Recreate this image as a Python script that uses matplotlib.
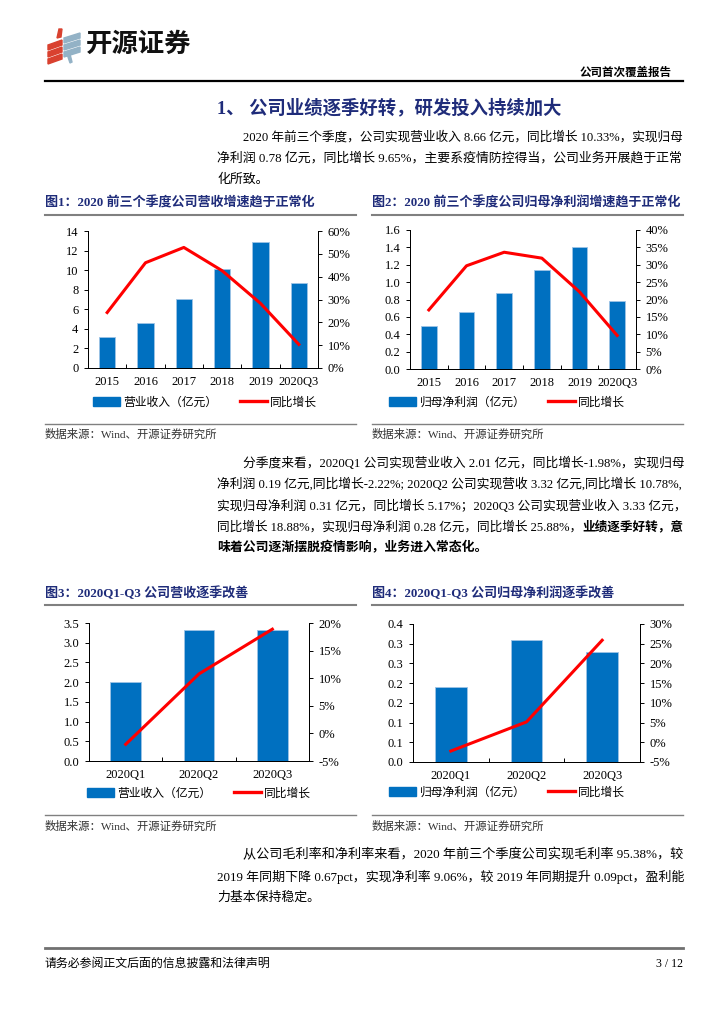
import numpy as np
import matplotlib
matplotlib.use("Agg")
import matplotlib.pyplot as plt
from matplotlib.patches import Polygon
from matplotlib.lines import Line2D

plt.rcParams['font.family'] = ['Liberation Serif', 'Noto Sans CJK SC']
plt.rcParams['axes.unicode_minus'] = False

#data
years = ['2015', '2016', '2017', '2018', '2019', '2020Q3']
revenue = [3.19, 4.61, 7.05, 10.07, 12.88, 8.66]
revenue_yoy = [24.3, 46.1, 52.8, 42.6, 28.3, 10.33]
profit = [0.50, 0.655, 0.873, 1.145, 1.41, 0.78]
profit_yoy = [17.0, 29.7, 33.6, 31.9, 22.2, 9.65]

quarters = ['2020Q1', '2020Q2', '2020Q3']
q_revenue = [2.01, 3.32, 3.33]
q_revenue_yoy = [-1.98, 10.78, 18.88]
q_profit = [0.19, 0.31, 0.28]
q_profit_yoy = [-2.22, 5.17, 25.88]
q_profit_ticklabels = ['0.0', '0.1', '0.1', '0.2', '0.2', '0.3', '0.3', '0.4']

W, H = 724, 1024
NAVY = '#1F2C7A'
BLUE = '#0070C0'
RED = '#FF0000'
TICK_FS = 9

fig = plt.figure(figsize=(7.24, 10.24), dpi=100)
renderer = fig.canvas.get_renderer()


def fx(x):
    return x / W


def fy(y):
    return 1 - y / H


def txt(x, y, s, size=9.3, **kw):
    return fig.text(fx(x), fy(y), s, fontsize=size, va='center', **kw)


def width(t):
    return t.get_window_extent(renderer).width


def jtxt(x, y, s, right=683, size=9.3, **kw):
    # full-width line, sized to fill the text column like the justified original
    t = txt(x, y, s, size=size, **kw)
    t.set_fontsize(size * (right - x) / width(t))
    return t


def hline(x0, x1, y, lw=1.0, color='#808080'):
    fig.add_artist(Line2D([fx(x0), fx(x1)], [fy(y), fy(y)], color=color, lw=lw,
                          transform=fig.transFigure))


def poly(pts, color):
    fig.add_artist(Polygon([(fx(a), fy(b)) for a, b in pts], closed=True, color=color,
                           transform=fig.transFigure))


def rect(l, r, t, b):
    return [fx(l), fy(b), (r - l) / W, (b - t) / H]


# header / logo
red_c = '#D9412F'
blue_c = '#93B2C6'
for i in range(3):
    y0 = 45 + i * 7
    poly([(48, y0 + 5), (62, y0), (62, y0 - 5), (48, y0)], red_c)
    y1 = 38 + i * 7
    poly([(64, y1 + 5), (80, y1), (80, y1 - 5), (64, y1)], blue_c)
poly([(57, 38), (59, 29), (62, 29), (61, 37)], red_c)
poly([(67, 54), (70, 63), (72, 62), (70, 54)], blue_c)
txt(86, 45, '开源证券', size=19, fontweight='heavy', color='#111111')
txt(672, 73, '公司首次覆盖报告', size=8.3, fontweight='bold', ha='right')
hline(45, 683, 80.5, lw=1.6, color='#000000')

# section title + paragraph 1
txt(217, 108, '1、 公司业绩逐季好转，研发投入持续加大', size=13.2, fontweight='bold', color=NAVY)
jtxt(243, 137, '2020 年前三个季度，公司实现营业收入 8.66 亿元，同比增长 10.33%，实现归母')
jtxt(217, 158, '净利润 0.78 亿元，同比增长 9.65%，主要系疫情防控得当，公司业务开展趋于正常')
txt(217, 180, '化所致。')


def chart(r, cats, bars, growth, ylim, yticks, ytl, y2lim, y2ticks, bar_label, leg_xy):
    ax = fig.add_axes(r)
    x = np.arange(len(cats))
    ax.bar(x, bars, width=0.42, color=BLUE, edgecolor='#9DC3E6', linewidth=0.6, zorder=2)
    ax.set_xlim(-0.5, len(cats) - 0.5)
    ax.set_ylim(*ylim)
    ax.set_yticks(yticks)
    ax.set_yticklabels(ytl, fontsize=TICK_FS)
    ax.set_xticks(x)
    ax.set_xticklabels(cats, fontsize=TICK_FS)
    ax.set_xticks(np.arange(len(cats) + 1) - 0.5, minor=True)
    ax.tick_params(axis='x', which='major', length=0, pad=6)
    ax.tick_params(axis='x', which='minor', length=3, direction='in', width=0.7)
    ax.tick_params(axis='y', length=3, width=0.7, pad=4)
    ax2 = ax.twinx()
    ax2.plot(x, growth, color=RED, lw=2.2, zorder=3)
    ax2.set_ylim(*y2lim)
    ax2.set_yticks(y2ticks)
    ax2.set_yticklabels(['%d%%' % v for v in y2ticks], fontsize=TICK_FS)
    ax2.tick_params(axis='y', length=3, width=0.7, pad=4)
    for a in (ax, ax2):
        a.spines['top'].set_visible(False)
        for s in ('left', 'right', 'bottom'):
            a.spines[s].set_linewidth(0.7)
            a.spines[s].set_color('#000000')
    handles = [plt.Rectangle((0, 0), 1, 1, color=BLUE),
               Line2D([], [], color=RED, lw=2.4)]
    ax.legend(handles, [bar_label, '同比增长'], loc='center', ncol=2, frameon=False,
              bbox_to_anchor=(fx(leg_xy[0]), fy(leg_xy[1])), bbox_transform=fig.transFigure,
              handlelength=2.3, handleheight=0.7, columnspacing=1.9,
              handletextpad=0.3, prop={'family': ['Noto Sans CJK SC'], 'size': 8.5})
    return ax


# figure 1 & 2
txt(45, 203, '图1：2020 前三个季度公司营收增速趋于正常化', size=9.4, fontweight='bold', color=NAVY)
txt(372, 203, '图2：2020 前三个季度公司归母净利润增速趋于正常化', size=9.4, fontweight='bold', color=NAVY)
hline(45, 356, 214.5, lw=1.5)
hline(372, 683, 214.5, lw=1.5)

chart(rect(88, 318, 231, 368), years, revenue, revenue_yoy, (0, 14), np.arange(0, 15, 2),
      [str(v) for v in range(0, 15, 2)], (0, 60), list(range(0, 61, 10)), '营业收入（亿元）', (205, 402))
chart(rect(410, 636, 230, 369), years, profit, profit_yoy, (0, 1.6), np.arange(0, 1.61, 0.2),
      ['%.1f' % v for v in np.arange(0, 1.61, 0.2)], (0, 40), list(range(0, 41, 5)),
      '归母净利润（亿元）', (507, 402))

hline(45, 356, 424)
hline(372, 683, 424)
txt(45, 434, '数据来源：Wind、开源证券研究所', size=8.2, color='#333333')
txt(372, 434, '数据来源：Wind、开源证券研究所', size=8.2, color='#333333')

# paragraph 2
jtxt(243, 463, '分季度来看，2020Q1 公司实现营业收入 2.01 亿元，同比增长-1.98%，实现归母')
jtxt(217, 484, '净利润 0.19 亿元,同比增长-2.22%; 2020Q2 公司实现营收 3.32 亿元,同比增长 10.78%,')
jtxt(217, 506, '实现归母净利润 0.31 亿元，同比增长 5.17%；2020Q3 公司实现营业收入 3.33 亿元，')
t1 = txt(217, 527, '同比增长 18.88%，实现归母净利润 0.28 亿元，同比增长 25.88%，')
t2 = txt(683, 527, '业绩逐季好转，意', fontweight='bold', ha='right')
k = (683 - 217) / (width(t1) + width(t2))
t1.set_fontsize(9.3 * k)
t2.set_fontsize(9.3 * k)
txt(217, 548, '味着公司逐渐摆脱疫情影响，业务进入常态化。', fontweight='bold')

# figure 3 & 4
txt(45, 593, '图3：2020Q1-Q3 公司营收逐季改善', size=9.4, fontweight='bold', color=NAVY)
txt(372, 593, '图4：2020Q1-Q3 公司归母净利润逐季改善', size=9.4, fontweight='bold', color=NAVY)
hline(45, 356, 605, lw=1.5)
hline(372, 683, 605, lw=1.5)

chart(rect(89, 309, 623, 761), quarters, q_revenue, q_revenue_yoy, (0, 3.5), np.arange(0, 3.51, 0.5),
      ['%.1f' % v for v in np.arange(0, 3.51, 0.5)], (-5, 20), list(range(-5, 21, 5)),
      '营业收入（亿元）', (199, 793))
chart(rect(413, 640, 624, 762), quarters, q_profit, q_profit_yoy, (0, 0.35), np.arange(0, 0.351, 0.05),
      q_profit_ticklabels, (-5, 30), list(range(-5, 31, 5)), '归母净利润（亿元）', (507, 792))

hline(45, 356, 815)
hline(372, 683, 815)
txt(45, 826, '数据来源：Wind、开源证券研究所', size=8.2, color='#333333')
txt(372, 826, '数据来源：Wind、开源证券研究所', size=8.2, color='#333333')

# paragraph 3
jtxt(243, 855, '从公司毛利率和净利率来看，2020 年前三个季度公司实现毛利率 95.38%，较')
jtxt(217, 877, '2019 年同期下降 0.67pct，实现净利率 9.06%，较 2019 年同期提升 0.09pct，盈利能')
txt(217, 898, '力基本保持稳定。')

# footer
hline(45, 683, 947.5, lw=2.0, color='#707070')
txt(45, 964, '请务必参阅正文后面的信息披露和法律声明', size=8.6)
txt(683, 964, '3 / 12', size=8.6, ha='right')

fig.savefig('out.png', dpi=100)
